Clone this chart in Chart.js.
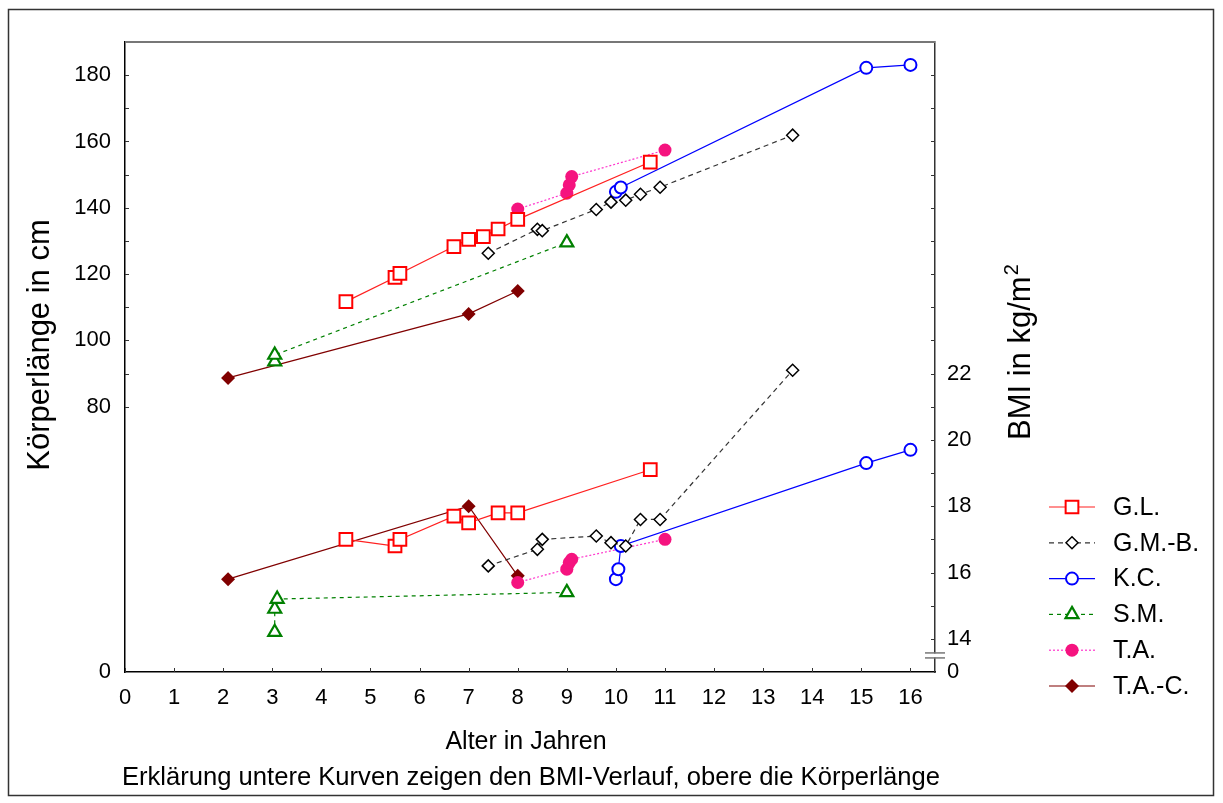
<!DOCTYPE html>
<html>
<head>
<meta charset="utf-8">
<script src="https://cdn.jsdelivr.net/npm/chart.js@4.4.1/dist/chart.umd.min.js"></script>
<style>
  html, body { margin: 0; padding: 0; background: #fff; }
  canvas { display: block; }
</style>
</head>
<body>
<canvas id="myChart" width="1223" height="803"></canvas>
<script>
// ages (years), body height (cm) and BMI (kg/m2) per child
let names = ["G.L.", "G.M.-B.", "K.C.", "S.M.", "T.A.", "T.A.-C."];

let glAge = [4.5, 5.5, 5.6, 6.7, 7.0, 7.3, 7.6, 8.0, 10.7];
let glHeight = [111.7, 119.0, 120.2, 128.3, 130.5, 131.3, 133.6, 136.5, 153.8];
let glBmiAge = [4.5, 5.5, 5.6, 6.7, 7.0, 7.6, 8.0, 10.7];
let glBmi = [17.0, 16.8, 17.0, 17.7, 17.5, 17.8, 17.8, 19.1];

let gmbAge = [7.4, 8.4, 8.5, 9.6, 9.9, 10.2, 10.5, 10.9, 13.6];
let gmbHeight = [126.3, 133.5, 133.1, 139.5, 141.7, 142.3, 144.1, 146.2, 161.9];
let gmbBmiAge = [7.4, 8.4, 8.5, 9.6, 9.9, 10.2, 10.5, 10.9, 13.6];
let gmbBmi = [16.2, 16.7, 17.0, 17.1, 16.9, 16.8, 17.6, 17.6, 22.1];

let kcAge = [10.0, 10.1, 15.1, 16.0];
let kcHeight = [144.8, 146.1, 182.2, 183.1];
let kcBmiAge = [10.0, 10.05, 10.1, 15.1, 16.0];
let kcBmi = [15.8, 16.1, 16.8, 19.3, 19.7];

let smAge = [3.05, 3.05, 9.0];
let smHeight = [93.6, 95.6, 129.5];
let smBmiAge = [3.05, 3.05, 3.1, 9.0];
let smBmi = [14.2, 14.9, 15.2, 15.4];

let taAge = [8.0, 9.0, 9.05, 9.1, 11.0];
let taHeight = [139.6, 144.4, 146.9, 149.4, 157.4];
let taBmiAge = [8.0, 9.0, 9.05, 9.1, 11.0];
let taBmi = [15.7, 16.1, 16.3, 16.4, 17.0];

let tacAge = [2.1, 7.0, 8.0];
let tacHeight = [88.7, 108.0, 114.9];
let tacBmiAge = [2.1, 7.0, 8.0];
let tacBmi = [15.8, 18.0, 15.9];

let xTicks = [0, 1, 2, 3, 4, 5, 6, 7, 8, 9, 10, 11, 12, 13, 14, 15, 16];
let heightTicks = [0, 80, 100, 120, 140, 160, 180];
let bmiTicks = [13, 14, 16, 18, 20, 22]; // 13 sits at the axis break, shown as "0"

const FONT = "'Liberation Sans', Arial, sans-serif";

function pts(xs, ys) {
	let out = [];
	for (let i = 0; i < xs.length; i++) out.push({ x: xs[i], y: ys[i] });
	return out;
}

let styles = [
	{ color: "#ff0000", line: "#ff2020", style: "rect", r: 9, bw: 2, fill: "#fff", dash: [] },
	{ color: "#000000", line: "#333333", style: "rectRot", r: 6, bw: 1.5, fill: "#fff", dash: [5, 4] },
	{ color: "#0000ff", line: "#0000ff", style: "circle", r: 6, bw: 2, fill: "#fff", dash: [] },
	{ color: "#008000", line: "#008000", style: "triangle", r: 7.5, bw: 2.2, fill: "#fff", dash: [4, 4] },
	{ color: "#f5137f", line: "#ff33cc", style: "circle", r: 6.5, bw: 0, fill: "#f5137f", dash: [2, 2] },
	{ color: "#800000", line: "#800000", style: "rectRot", r: 7, bw: 0, fill: "#800000", dash: [] }
];

let heightSeries = [
	pts(glAge, glHeight), pts(gmbAge, gmbHeight), pts(kcAge, kcHeight),
	pts(smAge, smHeight), pts(taAge, taHeight), pts(tacAge, tacHeight)
];
let bmiSeries = [
	pts(glBmiAge, glBmi), pts(gmbBmiAge, gmbBmi), pts(kcBmiAge, kcBmi),
	pts(smBmiAge, smBmi), pts(taBmiAge, taBmi), pts(tacBmiAge, tacBmi)
];

function makeSet(label, data, st, axis) {
	return {
		label: label,
		data: data,
		yAxisID: axis,
		showLine: true,
		borderColor: st.line,
		borderWidth: 1.2,
		borderDash: st.dash,
		pointStyle: st.style,
		pointRadius: st.r,
		pointBorderWidth: st.bw,
		pointBorderColor: st.color,
		pointBackgroundColor: st.fill,
		tension: 0
	};
}

let datasets = [];
for (let i = 0; i < names.length; i++) {
	datasets.push(makeSet(names[i], heightSeries[i], styles[i], "y"));
	datasets.push(makeSet(names[i] + " BMI", bmiSeries[i], styles[i], "y2"));
}

function line(ctx, x1, y1, x2, y2) {
	ctx.beginPath();
	ctx.moveTo(x1, y1);
	ctx.lineTo(x2, y2);
	ctx.stroke();
}

// frame, inward ticks, axis break, titles and legend
const decor = {
	id: "decor",
	afterDraw(chart) {
		const ctx = chart.ctx;
		const a = chart.chartArea;
		const sx = chart.scales.x, sy = chart.scales.y, sy2 = chart.scales.y2;
		ctx.save();

		// outer frame
		ctx.strokeStyle = "#333";
		ctx.lineWidth = 1.5;
		ctx.strokeRect(8.5, 9.5, 1205, 786);

		// top line of the plot
		ctx.strokeStyle = "#777";
		ctx.lineWidth = 2;
		line(ctx, a.left, a.top, a.right, a.top);

		// inward ticks
		ctx.strokeStyle = "#333";
		ctx.lineWidth = 1;
		for (let v of xTicks) {
			let px = Math.round(sx.getPixelForValue(v)) + 0.5;
			line(ctx, px, a.bottom, px, a.bottom - 4);
		}
		for (let v = 80; v <= 180; v += 10) {
			let py = Math.round(sy.getPixelForValue(v)) + 0.5;
			line(ctx, a.left, py, a.left + 4, py);
		}
		for (let v = 14; v <= 31; v++) {
			let py = Math.round(sy2.getPixelForValue(v)) + 0.5;
			line(ctx, a.right, py, a.right - 4, py);
		}

		// break on the BMI axis
		let yb = sy2.getPixelForValue(13.5);
		ctx.fillStyle = "#fff";
		ctx.fillRect(a.right - 8, yb - 2, 18, 4);
		ctx.strokeStyle = "#777";
		ctx.lineWidth = 1.5;
		line(ctx, a.right - 10, yb - 2.5, a.right + 10, yb - 2.5);
		line(ctx, a.right - 10, yb + 2.5, a.right + 10, yb + 2.5);

		// titles
		ctx.fillStyle = "#000";
		ctx.textAlign = "center";
		ctx.textBaseline = "middle";
		ctx.font = "25px " + FONT;
		ctx.fillText("Alter in Jahren", 526, 742);
		ctx.font = "25.6px " + FONT;
		ctx.fillText("Erklärung untere Kurven zeigen den BMI-Verlauf, obere die Körperlänge", 531, 778);

		ctx.textBaseline = "alphabetic";
		ctx.font = "31px " + FONT;
		ctx.save();
		ctx.translate(49, 345);
		ctx.rotate(-Math.PI / 2);
		ctx.fillText("Körperlänge in cm", 0, 0);
		ctx.restore();

		ctx.save();
		ctx.translate(1030, 440);
		ctx.rotate(-Math.PI / 2);
		ctx.textAlign = "left";
		let main = "BMI in kg/m";
		ctx.fillText(main, 0, 0);
		let w = ctx.measureText(main).width;
		ctx.font = "20px " + FONT;
		ctx.fillText("2", w + 1, -12);
		ctx.restore();

		// legend
		ctx.textAlign = "left";
		ctx.textBaseline = "middle";
		ctx.font = "25px " + FONT;
		for (let i = 0; i < names.length; i++) {
			let st = styles[i];
			let ly = 507 + i * 35.8;
			ctx.strokeStyle = st.line;
			ctx.lineWidth = 1.2;
			ctx.setLineDash(st.dash);
			line(ctx, 1049, ly, 1095, ly);
			ctx.setLineDash([]);
			ctx.fillStyle = st.fill;
			ctx.strokeStyle = st.color;
			ctx.lineWidth = st.bw;
			Chart.helpers.drawPoint(ctx, { pointStyle: st.style, radius: st.r, rotation: 0, borderWidth: st.bw }, 1072, ly);
			ctx.fillStyle = "#000";
			ctx.fillText(names[i], 1113, ly + 1);
		}
		ctx.restore();
	}
};

var ctx = document.getElementById("myChart").getContext("2d");
var myChart = new Chart(ctx, {
	type: "scatter",
	data: { datasets: datasets },
	plugins: [decor],
	options: {
		responsive: false,
		animation: false,
		layout: { padding: { top: 42, left: 0, right: 0, bottom: 0 } },
		plugins: {
			legend: { display: false },
			tooltip: { enabled: false }
		},
		scales: {
			x: {
				type: "linear",
				min: 0,
				max: 16.5,
				afterBuildTicks: s => { s.ticks = xTicks.map(v => ({ value: v })); },
				afterFit: s => { s.height = 131; },
				grid: { display: false, drawTicks: false },
				border: { color: "#000", width: 1.5 },
				ticks: { padding: 13, color: "#000", font: { size: 22, family: FONT } }
			},
			y: {
				type: "linear",
				position: "left",
				min: 0,
				max: 190,
				afterBuildTicks: s => { s.ticks = heightTicks.map(v => ({ value: v })); },
				afterFit: s => { s.width = 125; },
				grid: { display: false, drawTicks: false },
				border: { color: "#000", width: 1.5 },
				ticks: { padding: 14, color: "#000", font: { size: 22, family: FONT } }
			},
			y2: {
				type: "linear",
				position: "right",
				min: 13,
				max: 32,
				afterBuildTicks: s => { s.ticks = bmiTicks.map(v => ({ value: v })); },
				afterFit: s => { s.width = 288; },
				grid: { display: false, drawTicks: false },
				border: { color: "#333", width: 1.5 },
				ticks: {
					padding: 12,
					color: "#000",
					font: { size: 22, family: FONT },
					callback: v => (v === 13 ? "0" : String(v))
				}
			}
		}
	}
});
</script>
</body>
</html>
